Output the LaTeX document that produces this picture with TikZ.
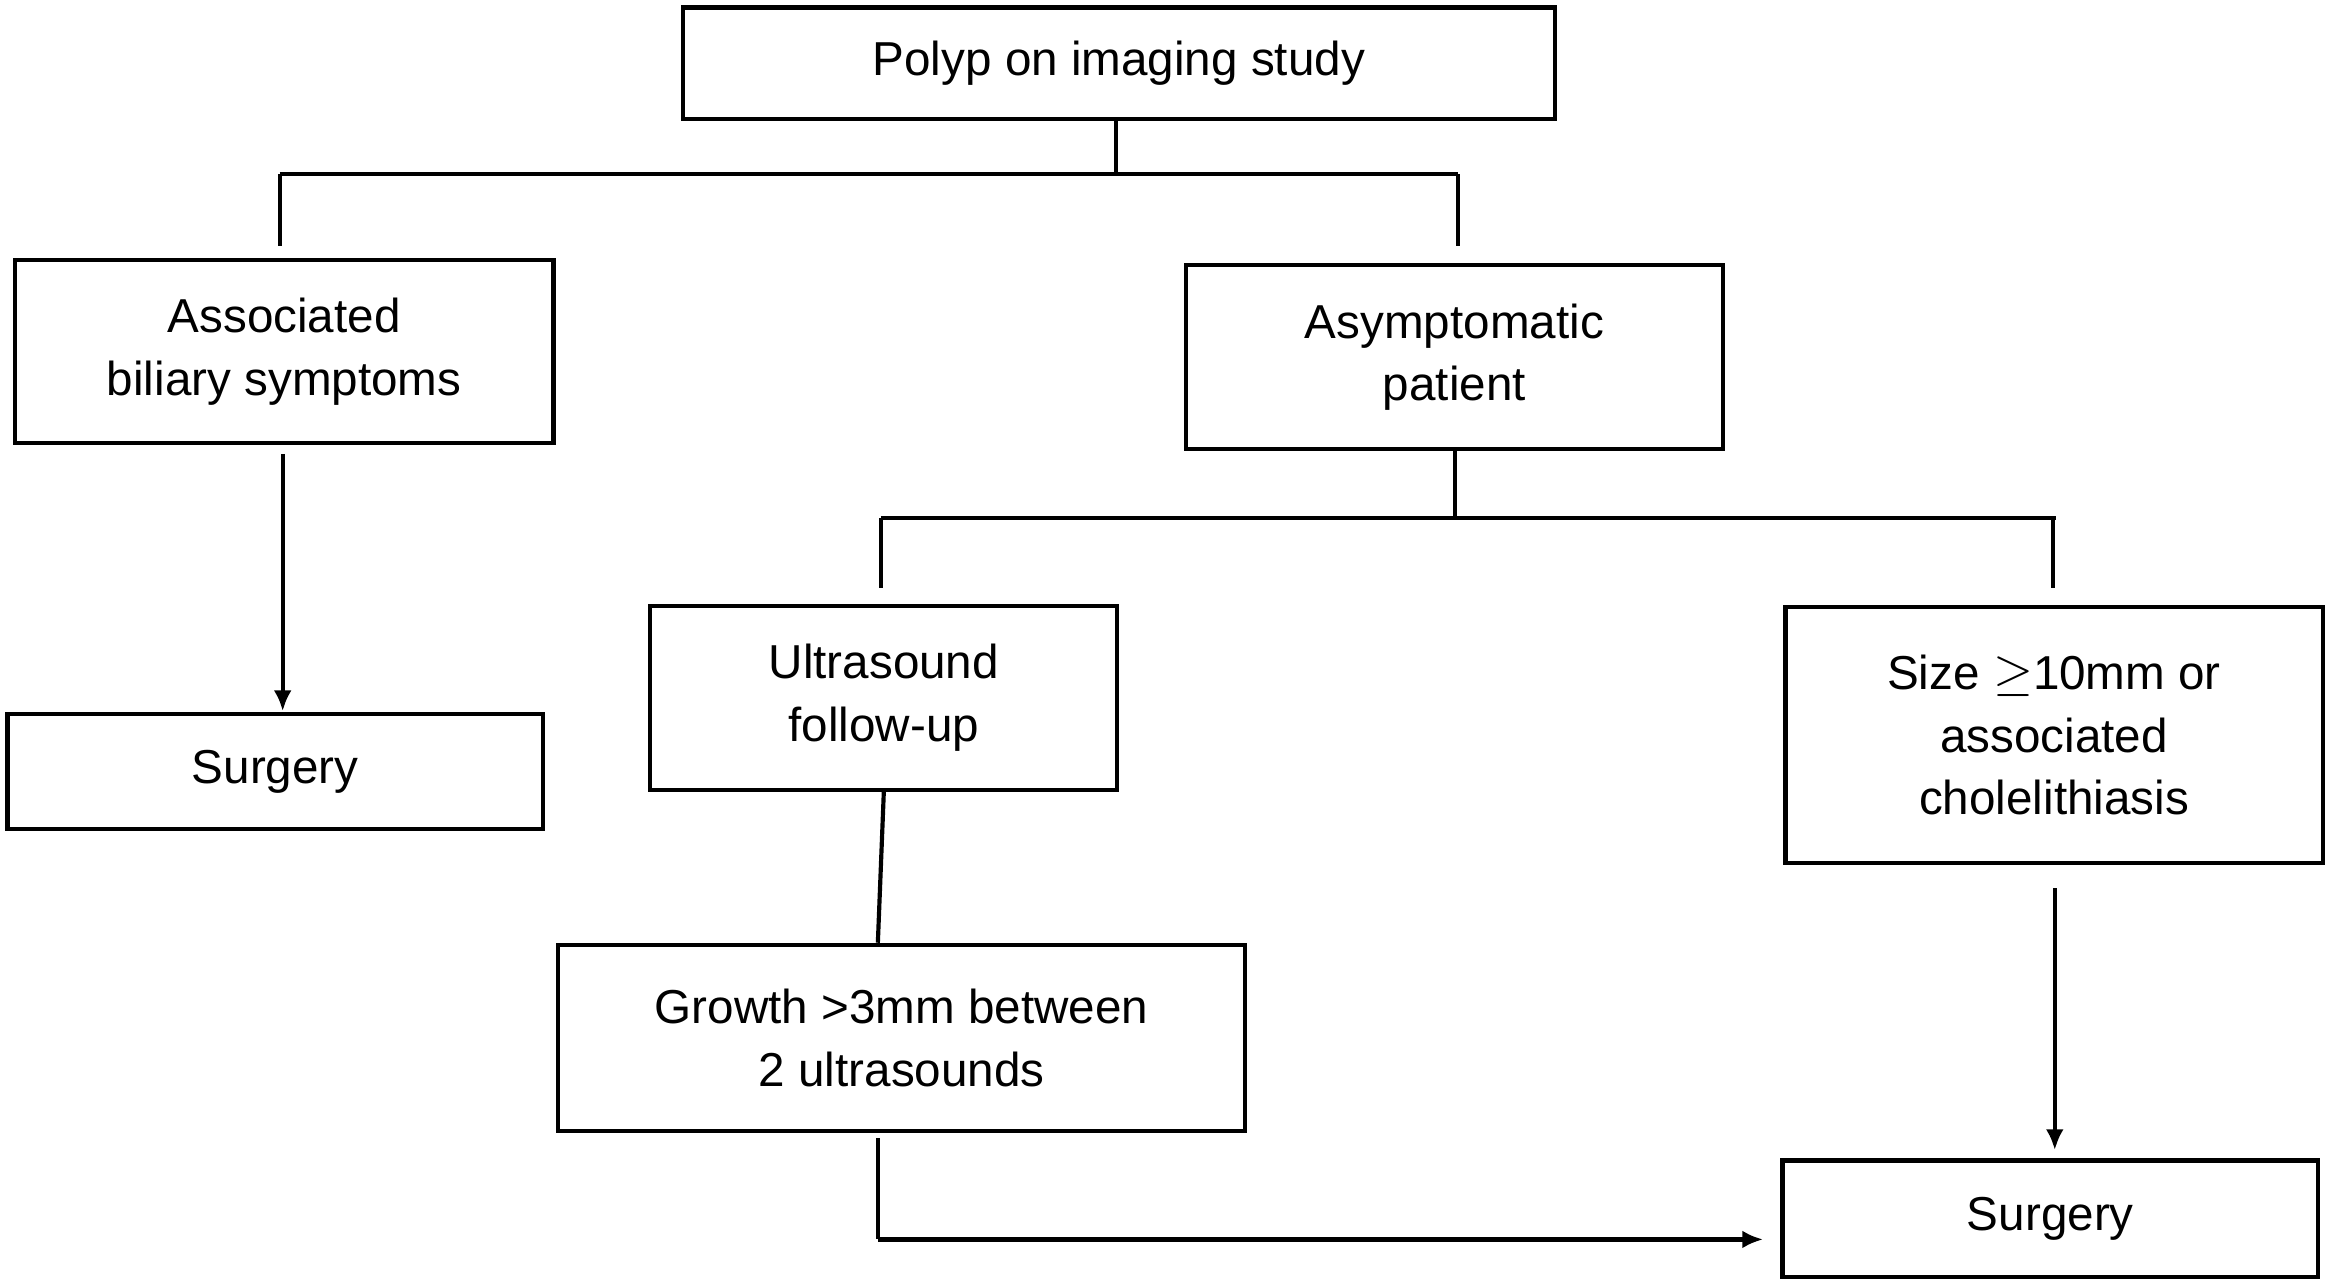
\documentclass[tikz,border=0pt]{standalone}
\usepackage{fontspec}
\setmainfont{Liberation Sans}
\usetikzlibrary{arrows.meta}
\begin{document}
\begin{tikzpicture}[x=0.5pt,y=-0.5pt,
  box/.style={draw,line width=1.4pt,align=center,font=\fontsize{16}{21}\selectfont,inner sep=0pt},
  ln/.style={line width=1.4pt},
  arr/.style={ln,-{Latex[length=7pt,width=6pt]}}]
\useasboundingbox (0,0) rectangle (1568,864);
\node[box,minimum width=293pt,minimum height=37.5pt] (top) at (752,42.5) {Polyp on imaging study};
\node[box,minimum width=181pt,minimum height=61.5pt] (bil) at (191,236.5) {Associated\\biliary symptoms};
\node[box,minimum width=180.5pt,minimum height=62pt] (asy) at (977.5,240) {Asymptomatic\\patient};
\node[box,minimum width=180pt,minimum height=38.5pt] (s1) at (185,518.5) {Surgery};
\node[box,minimum width=157pt,minimum height=62pt] (us) at (594,469) {Ultrasound\\follow-up};
\node[box,minimum width=180.5pt,minimum height=86pt] (size) at (1380.5,494) {Size $\geq$10mm or\\associated\\cholelithiasis};
\node[box,minimum width=231pt,minimum height=62.5pt] (gr) at (606,697.5) {Growth >3mm between\\2 ultrasounds};
\node[box,minimum width=180pt,minimum height=39pt] (s2) at (1378,819) {Surgery};
\coordinate (j1) at (750,117);
\coordinate (j2) at (978,348);
\coordinate (c1) at (590,833);
\coordinate (a1) at (190,305);
\coordinate (a2) at (190,478);
\coordinate (e1) at (1185,833);
\coordinate (b1) at (1381,597);
\coordinate (b2) at (1381,773);
\draw[ln] (top.south -| j1) -- (j1);
\draw[ln] (188,117) -- (980,117);
\draw[ln] (188,117) -- (188,165);
\draw[ln] (980,117) -- (980,165);
\draw[arr] (a1) -- (a2);
\draw[ln] (asy.south -| j2) -- (j2);
\draw[ln] (592,348) -- (1382,348);
\draw[ln] (592,348) -- (592,395);
\draw[ln] (1380,348) -- (1380,395);
\draw[ln] (us.south) -- (gr.north -| 590,0);
\draw[ln] (590,765) -- (c1);
\draw[arr] (c1) -- (e1);
\draw[arr] (b1) -- (b2);
\end{tikzpicture}
\end{document}
